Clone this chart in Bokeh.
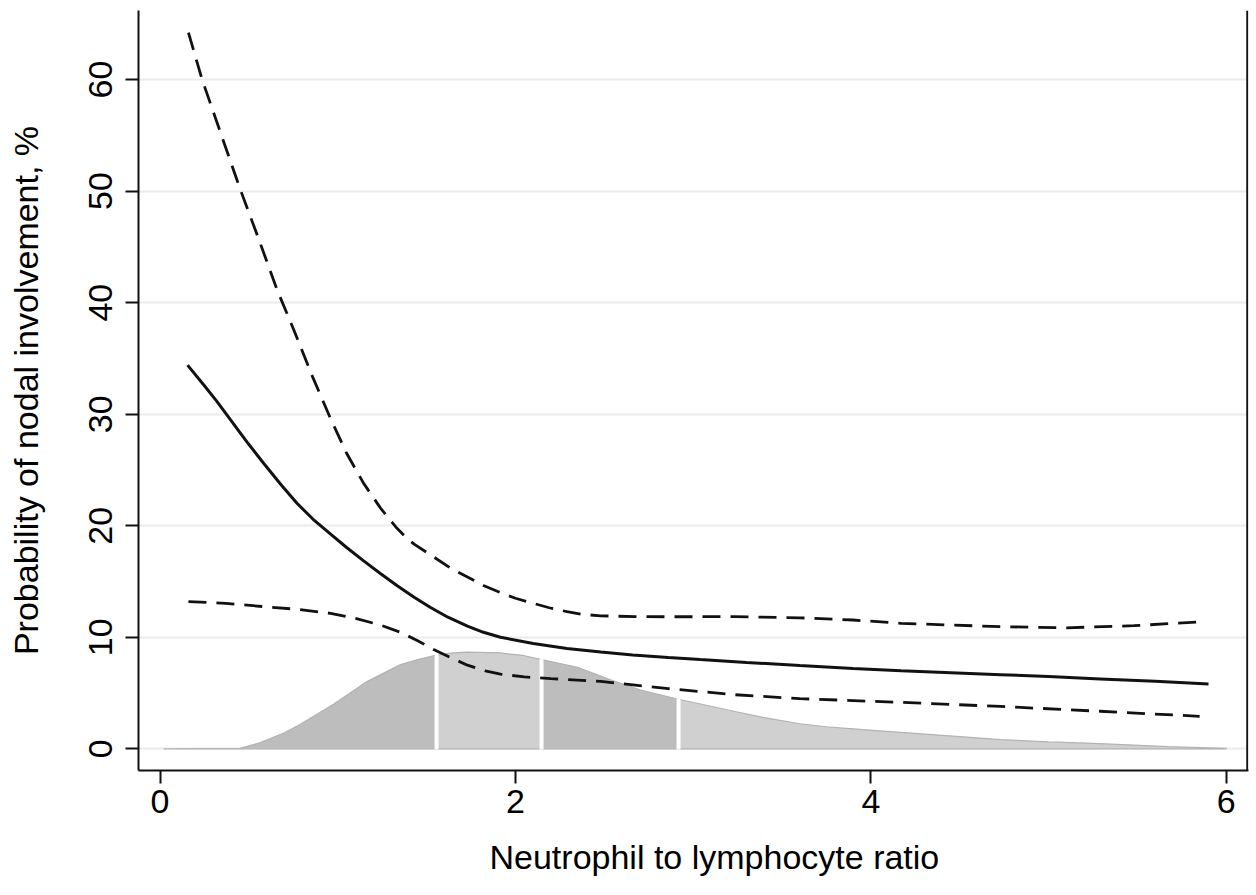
import numpy as np
from bokeh.plotting import figure
from bokeh.models import Range1d, FixedTicker, Span, Title
from bokeh.embed import file_html
from bokeh.resources import INLINE

# ---- data ----
fit_x = [0.155, 0.25, 0.32, 0.397, 0.49, 0.583, 0.68, 0.772, 0.86, 0.96, 1.05, 1.146, 1.24,
         1.335, 1.43, 1.52, 1.62, 1.73, 1.82, 1.916, 2.10, 2.29, 2.48, 2.66, 2.86, 3.04, 3.3,
         3.6, 3.9, 4.17, 4.45, 4.73, 5.0, 5.29, 5.6, 5.90]
fit_y = [34.4, 32.55, 31.15, 29.5, 27.5, 25.6, 23.7, 22.0, 20.6, 19.25, 18.05, 16.85, 15.72,
         14.62, 13.6, 12.7, 11.8, 11.0, 10.45, 10.0, 9.45, 9.0, 8.68, 8.42, 8.18, 8.0, 7.75,
         7.47, 7.2, 7.0, 6.83, 6.65, 6.48, 6.27, 6.05, 5.82]

upper_x = [0.16, 0.237, 0.35, 0.453, 0.56, 0.66, 0.752, 0.86, 0.96, 1.05, 1.146, 1.24, 1.29,
           1.335, 1.385, 1.43, 1.54, 1.63, 1.73, 1.82, 1.916, 2.0, 2.10, 2.19, 2.29, 2.38,
           2.48, 2.67, 2.86, 3.23, 3.6, 3.9, 4.17, 4.45, 4.73, 5.1, 5.48, 5.87]
upper_y = [64.2, 60.0, 54.8, 50.1, 45.5, 41.1, 37.6, 33.3, 29.6, 26.5, 23.8, 21.6, 20.6,
           19.75, 18.95, 18.35, 17.2, 16.25, 15.4, 14.65, 14.0, 13.5, 13.05, 12.65, 12.3, 12.05,
           11.93, 11.85, 11.84, 11.85, 11.75, 11.55, 11.25, 11.1, 10.95, 10.85, 11.04, 11.4]

lower_x = [0.16, 0.37, 0.583, 0.78, 0.96, 1.1, 1.24, 1.353, 1.45, 1.54, 1.64, 1.73, 1.83,
           1.916, 2.05, 2.2, 2.48, 2.86, 3.23, 3.6, 4.17, 4.73, 5.29, 5.85]
lower_y = [13.2, 13.05, 12.75, 12.5, 12.15, 11.7, 11.1, 10.45, 9.7, 8.9, 8.15, 7.5, 7.0,
           6.7, 6.45, 6.3, 6.05, 5.4, 4.86, 4.5, 4.17, 3.8, 3.37, 2.92]

dens_x = [0.02, 0.2, 0.35, 0.45, 0.565, 0.70, 0.79, 0.976, 1.167, 1.353, 1.45, 1.556,
          1.65, 1.73, 1.916, 2.05, 2.147, 2.35, 2.535, 2.70, 2.918, 3.23, 3.4, 3.6, 3.75,
          3.9, 4.05, 4.17, 4.5, 4.73, 5.0, 5.29, 5.67, 6.0]
dens_y = [0.0, 0.02, 0.03, 0.05, 0.56, 1.45, 2.2, 4.0, 6.05, 7.55, 8.0, 8.4,
          8.6, 8.68, 8.6, 8.35, 8.0, 7.3, 6.2, 5.3, 4.45, 3.37, 2.8, 2.25, 1.98,
          1.8, 1.62, 1.47, 1.1, 0.83, 0.62, 0.47, 0.2, 0.05]
quartile_cuts = [1.556, 2.147, 2.918]

x_ticks = [0, 2, 4, 6]
y_ticks = [0, 10, 20, 30, 40, 50, 60]

FONT = "Liberation Sans"
FS = "34px"

p = figure(width=1250, height=895, output_backend="svg", toolbar_location=None,
           x_range=Range1d(-0.121, 6.125), y_range=Range1d(-1.94, 66.19),
           min_border_left=138, min_border_right=2, min_border_top=10, min_border_bottom=124,
           background_fill_color="white", border_fill_color="white")
p.outline_line_color = None

# density area split at quartiles
cut_idx = [0] + [dens_x.index(c) for c in quartile_cuts] + [len(dens_x) - 1]
fills = ["#bdbdbd", "#d0d0d0", "#bdbdbd", "#d0d0d0"]
for k in range(4):
    a, b = cut_idx[k], cut_idx[k + 1]
    xs = dens_x[a:b + 1]
    ys = dens_y[a:b + 1]
    px = xs + [xs[-1], xs[0]]
    py = ys + [0, 0]
    p.patch(px, py, fill_color=fills[k], line_color="#b3b3b3", line_width=1.2)
for c in quartile_cuts:
    yc = dens_y[dens_x.index(c)]
    p.segment(x0=[c], y0=[-0.05], x1=[c], y1=[yc + 0.1], line_color="white", line_width=4)

# curves
p.line(upper_x, upper_y, line_color="#111111", line_width=2.8, line_dash="18 10")
p.line(lower_x, lower_y, line_color="#111111", line_width=2.8, line_dash="18 10")
p.line(fit_x, fit_y, line_color="#111111", line_width=3)

# right border line
p.add_layout(Span(location=6.118, dimension="height", line_color="#111111", line_width=2))

# grid
p.xgrid.grid_line_color = None
p.ygrid.grid_line_color = "#ebebeb"
p.ygrid.grid_line_width = 2
p.ygrid.ticker = FixedTicker(ticks=y_ticks)

# axes
for ax in (p.xaxis[0], p.yaxis[0]):
    ax.axis_line_color = "#111111"
    ax.axis_line_width = 2
    ax.major_tick_line_color = "#111111"
    ax.major_tick_line_width = 2
    ax.major_tick_out = 13
    ax.major_tick_in = 0
    ax.minor_tick_line_color = None
    ax.major_label_text_font = FONT
    ax.major_label_text_font_size = FS
    ax.major_label_text_color = "black"
    ax.axis_label_text_font = FONT
    ax.axis_label_text_font_size = FS
    ax.axis_label_text_font_style = "normal"
    ax.axis_label_text_color = "black"

p.xaxis.ticker = FixedTicker(ticks=x_ticks)
p.yaxis.ticker = FixedTicker(ticks=y_ticks)
p.yaxis.axis_label = "Probability of nodal involvement, %"
p.xaxis.major_label_standoff = 6
p.yaxis.major_label_orientation = "vertical"
p.yaxis.major_label_standoff = 13
p.yaxis.axis_label_standoff = 42

# x-axis title (a little right of centre, as in the reference)
p.add_layout(Title(text="Neutrophil to lymphocyte ratio", align="left", offset=351,
                   vertical_align="bottom",
                   text_font=FONT, text_font_size=FS, text_font_style="normal",
                   text_color="black", standoff=40), "below")

open("out.html", "w").write(file_html(p, INLINE))
